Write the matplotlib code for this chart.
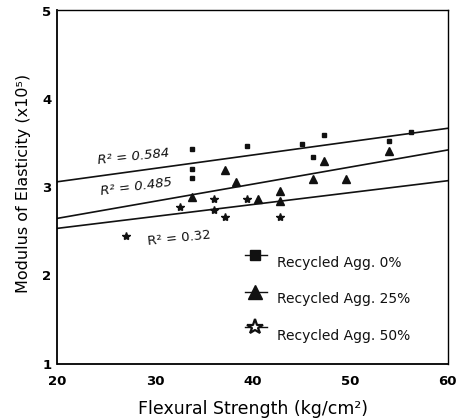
import matplotlib
matplotlib.use("Agg")
import matplotlib.pyplot as plt
import numpy as np

# Flexural strength (kg/cm^2) and modulus of elasticity (x10^5) per mix
strength_0 = [33.8, 33.8, 33.8, 39.4, 45.1, 47.3, 46.2, 54.0, 56.3]
modulus_0 = [3.43, 3.20, 3.10, 3.47, 3.49, 3.59, 3.34, 3.52, 3.62]

strength_25 = [37.2, 38.3, 33.8, 40.6, 42.8, 42.8, 46.2, 47.3, 49.6, 54.0]
modulus_25 = [3.19, 3.06, 2.89, 2.86, 2.95, 2.84, 3.09, 3.30, 3.09, 3.41]

strength_50 = [27.0, 32.6, 36.0, 36.0, 37.2, 39.4, 42.8]
modulus_50 = [2.45, 2.77, 2.86, 2.74, 2.66, 2.86, 2.66]

# Linear regression of each mix: modulus = intercept + slope * strength
fit_intercept = [2.757, 2.258, 2.262]
fit_slope = [0.01513, 0.01935, 0.01348]
r_squared = ["0.584", "0.485", "0.32"]

series_labels = ["Recycled Agg. 0%", "Recycled Agg. 25%", "Recycled Agg. 50%"]
x_ticks = [20, 30, 40, 50, 60]
y_ticks = [1, 2, 3, 4, 5]

fig = plt.figure(figsize=(4.59, 4.19), dpi=100)
ax = fig.add_axes([57.5 / 459, 1 - 363.5 / 419, 390 / 459, 353 / 419])

ax.set_xlim(20, 60)
ax.set_ylim(1, 5)
ax.set_xticks(x_ticks)
ax.set_yticks(y_ticks)
ax.set_xticklabels([str(t) for t in x_ticks])
ax.set_yticklabels([str(t) for t in y_ticks])
ax.tick_params(axis="both", length=0, labelsize=9.5)
ax.tick_params(axis="x", pad=8)
ax.tick_params(axis="y", pad=4.5)
for lab in ax.get_xticklabels() + ax.get_yticklabels():
    lab.set_fontweight("bold")

for side in ("left", "bottom"):
    ax.spines[side].set_linewidth(1.3)
for side in ("top", "right"):
    ax.spines[side].set_linewidth(1.0)

ink = "#111111"

# scatter points
ax.plot(strength_0, modulus_0, linestyle="none", marker="s", ms=3.4,
        color=ink, mec=ink)
ax.plot(strength_25, modulus_25, linestyle="none", marker="^", ms=5.2,
        color=ink, mec=ink)
ax.plot(strength_50, modulus_50, linestyle="none", marker="*", ms=6.0,
        color=ink, mec=ink)

# regression lines over the full strength range
xs = np.array(ax.get_xlim())
for a, b in zip(fit_intercept, fit_slope):
    ax.plot(xs, a + b * xs, color=ink, lw=1.2)

# R^2 annotations
r2_pos = [(27.74, 3.34, 6.0, "italic"),
          (28.12, 3.00, 7.5, "italic"),
          (32.46, 2.42, 6.0, "normal")]
for r, (tx, ty, rot, sty) in zip(r_squared, r2_pos):
    ax.text(tx, ty, f"R\u00b2 = {r}", ha="center", va="center",
            rotation=rot, rotation_mode="anchor", fontsize=9.5,
            style=sty, color=ink)

# legend drawn inside the axes
legend_styles = [dict(marker="s", ms=6.5, mfc=ink, mec=ink),
                 dict(marker="^", ms=9.5, mfc=ink, mec=ink),
                 dict(marker="*", ms=11.5, mfc="white", mec=ink, mew=1.6)]
legend_marker_y = [0.307, 0.203, 0.103]
legend_text_y = [0.285, 0.183, 0.078]
for lbl, sty, my, tyy in zip(series_labels, legend_styles,
                             legend_marker_y, legend_text_y):
    ax.plot([0.481, 0.537], [my, my], transform=ax.transAxes,
            color=ink, lw=1.0, clip_on=False)
    ax.plot([0.506], [my], transform=ax.transAxes, linestyle="none",
            clip_on=False, **sty)
    ax.text(0.563, tyy, lbl, transform=ax.transAxes, ha="left",
            va="center", fontsize=10, color=ink)

ax.set_xlabel("Flexural Strength (kg/cm\u00b2)", fontsize=12.5, va="center")
ax.xaxis.set_label_coords(0.501, -0.128)
ax.set_ylabel("Modulus of Elasticity (x10\u2075)", fontsize=11.5, va="center")
ax.yaxis.set_label_coords(-0.088, 0.51)

fig.savefig("out.png", dpi=100)
